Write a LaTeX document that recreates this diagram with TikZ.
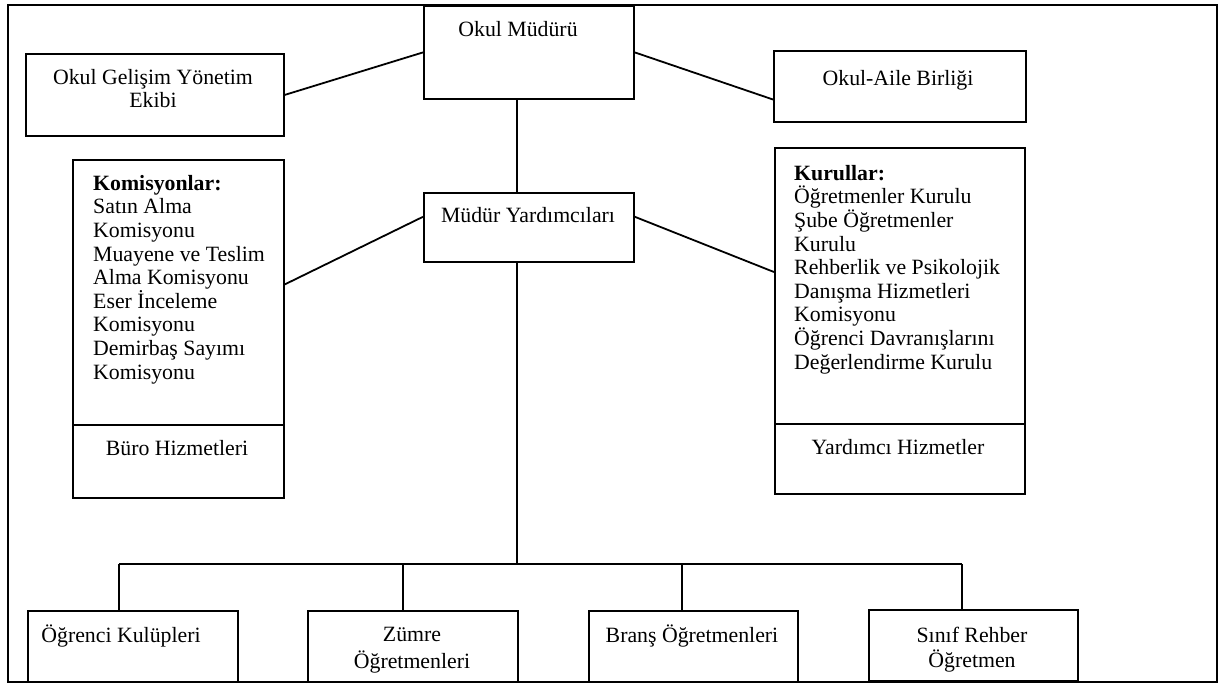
\documentclass[tikz,border=0pt]{standalone}
\usepackage{fontspec}
\setmainfont{Liberation Serif}
\usetikzlibrary{calc}
\begin{document}
\begin{tikzpicture}[x=1pt,y=-1pt,
  box/.style={draw,line width=1.8pt,inner sep=0pt,anchor=north west},
  lbl/.style={inner sep=0pt,anchor=base,font=\fontsize{21.8}{23.6}\selectfont},
  lst/.style={inner sep=0pt,anchor=north west,align=left,font=\fontsize{21.8}{23.6}\selectfont},
  conn/.style={line width=1.8pt}]
\useasboundingbox (0,0) rectangle (1225,686);
\fill[white] (0,0) rectangle (1225,686);
\draw[conn] (8,5) rectangle (1217,682);
% boxes
\node[box,minimum width=210,minimum height=93] (mud) at (423,5) {};
\node[box,minimum width=258,minimum height=82] (ogye) at (25,53) {};
\node[box,minimum width=252,minimum height=71] (oab) at (773,50) {};
\node[box,minimum width=211,minimum height=265] (kom) at (72,159) {};
\node[box,minimum width=211,minimum height=73] (buro) at (72,424) {};
\node[box,minimum width=210,minimum height=69] (my) at (423,192) {};
\node[box,minimum width=250,minimum height=276] (kur) at (774,147) {};
\node[box,minimum width=250,minimum height=70] (yard) at (774,423) {};
\node[box,minimum width=210,minimum height=71] (kul) at (27,610) {};
\node[box,minimum width=210,minimum height=71] (zum) at (307,610) {};
\node[box,minimum width=209,minimum height=71] (bra) at (588,610) {};
\node[box,minimum width=209,minimum height=71] (sin) at (868,609) {};
% texts
\node[lbl] (tmud) at (518,36) {Okul Müdürü};
\node[lst,align=center,anchor=north] (togye) at (153,69) {Okul Gelişim Yönetim\\Ekibi};
\node[lbl] (toab) at (898,85) {Okul-Aile Birliği};
\node[lbl] (tmy) at (528,222) {Müdür Yardımcıları};
\node[lst] (tkom) at (93,175) {\textbf{Komisyonlar:}\\Satın Alma\\Komisyonu\\Muayene ve Teslim\\Alma Komisyonu\\Eser İnceleme\\Komisyonu\\Demirbaş Sayımı\\Komisyonu};
\node[lbl] (tburo) at (177,455) {Büro Hizmetleri};
\node[lst] (tkur) at (794,165) {\textbf{Kurullar:}\\Öğretmenler Kurulu\\Şube Öğretmenler\\Kurulu\\Rehberlik ve Psikolojik\\Danışma Hizmetleri\\Komisyonu\\Öğrenci Davranışlarını\\Değerlendirme Kurulu};
\node[lbl] (tyard) at (898,454) {Yardımcı Hizmetler};
\node[lbl] (tkul) at (121,642) {Öğrenci Kulüpleri};
\node[lst,align=center,anchor=north] (tzum) at (412,627) {Zümre\\[3pt]Öğretmenleri};
\node[lbl] (tbra) at (692,642) {Branş Öğretmenleri};
\node[lst,align=center,anchor=north] (tsin) at (972,627) {Sınıf Rehber\\[1.5pt]Öğretmen};
% connectors
\draw[conn] (ogye.east) -- (mud.west);
\draw[conn] (mud.east) -- ($(oab.north west)!0.68!(oab.south west)$);
\draw[conn] ($(kom.north east)!0.47!(kom.south east)$) -- ($(my.north west)!0.35!(my.south west)$);
\draw[conn] ($(my.north east)!0.35!(my.south east)$) -- ($(kur.north west)!0.45!(kur.south west)$);
\coordinate (j) at (517,564);
\coordinate (d1) at (119,564);
\coordinate (d2) at (403,564);
\coordinate (d3) at (682,564);
\coordinate (d4) at (962,564);
\draw[conn] (mud.south -| j) -- (my.north -| j);
\draw[conn] (my.south -| j) -- (j);
\draw[conn] (d1) -- (d4);
\draw[conn] (d1) -- (d1 |- kul.north);
\draw[conn] (d2) -- (d2 |- zum.north);
\draw[conn] (d3) -- (d3 |- bra.north);
\draw[conn] (d4) -- (d4 |- sin.north);
\end{tikzpicture}
\end{document}
